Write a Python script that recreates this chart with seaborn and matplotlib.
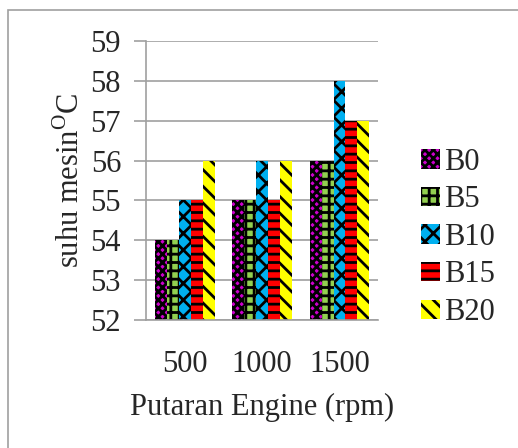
import numpy as np
import pandas as pd
import seaborn as sns
import matplotlib.pyplot as plt
from matplotlib.patches import Rectangle, Patch

# data
putaran = ["500", "1000", "1500"]
seri = ["B0", "B5", "B10", "B15", "B20"]
b0 = [54, 55, 56]
b5 = [54, 55, 56]
b10 = [55, 56, 58]
b15 = [55, 55, 57]
b20 = [56, 56, 57]

warna = ["#cc00cc", "#92d050", "#00b0f0", "#ff0000", "#ffff00"]
arsir = ["xxxx", "++", "xx", "--", "\\\\"]

tabela = pd.DataFrame({
    "putaran": putaran * 5,
    "seri": sum([[s] * 3 for s in seri], []),
    "suhu": b0 + b5 + b10 + b15 + b20,
})

sns.set_style("white")
plt.rcParams["font.family"] = ["Liberation Serif", "DejaVu Serif"]
plt.rcParams["hatch.linewidth"] = 2.0

fig = plt.figure(figsize=(5.18, 4.48), dpi=100)
ax = fig.add_axes([0.282, 0.286, 0.448, 0.622])

sns.barplot(data=tabela, x="putaran", y="suhu", hue="seri", order=putaran,
            hue_order=seri, palette=warna, saturation=1, width=0.77,
            legend=False, ax=ax)

for cont, h in zip(ax.containers, arsir):
    for bar in cont:
        bar.set_hatch(h)
        bar.set_edgecolor("black")
        bar.set_linewidth(0)

ax.set_ylim(52, 59)
ax.set_xlim(-0.5, 2.5)
ax.set_yticks(range(52, 60))
ax.yaxis.grid(True, color="#a0a0a0", linewidth=1.2)
ax.set_axisbelow(True)

for s in ["top", "right"]:
    ax.spines[s].set_visible(False)
for s in ["left", "bottom"]:
    ax.spines[s].set_color("#a0a0a0")
    ax.spines[s].set_linewidth(1.2)

ax.set_xticks([0, 1, 2])
ax.set_xticks([-0.5, 0.5, 1.5, 2.5], minor=True)
ax.tick_params(axis="x", which="major", length=0, pad=22, labelsize=22)
ax.tick_params(axis="x", which="minor", length=9, width=1.2, color="#a0a0a0")
ax.tick_params(axis="y", length=9, width=1.2, color="#a0a0a0", labelsize=22, pad=9, left=True)

ax.set_xlabel("Putaran Engine (rpm)", fontsize=22, labelpad=10)
ax.set_ylabel(r"suhu mesin$^\mathregular{O}$C", fontsize=22, labelpad=3)

handles = [Patch(facecolor=c, hatch=h, edgecolor="black", linewidth=0, label=s)
           for c, h, s in zip(warna, arsir, seri)]
fig.legend(handles=handles, loc="center left", bbox_to_anchor=(0.79, 0.47),
           frameon=False, fontsize=22, handlelength=0.6, handleheight=0.6,
           handletextpad=0.15, labelspacing=0.28, borderaxespad=0)

fig.patches.append(Rectangle((0.016, -0.1), 1.1, 1.078, transform=fig.transFigure,
                             fill=False, edgecolor="#a0a0a0", linewidth=1.2))

fig.savefig("out.png", dpi=100)
